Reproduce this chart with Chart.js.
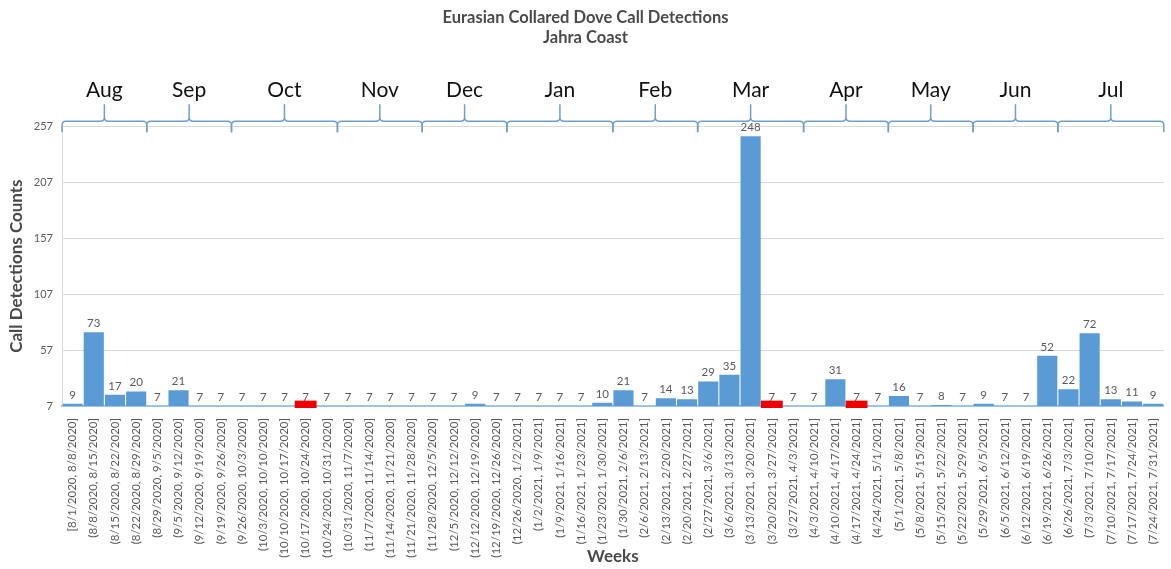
<!DOCTYPE html>
<html>
<head>
<meta charset="utf-8">
<script src="https://cdn.jsdelivr.net/npm/chart.js@4/dist/chart.umd.min.js"></script>
<style>
  body { margin: 0; background: #fff; }
  canvas { display: block; }
</style>
</head>
<body>
<canvas id="doveChart" width="1171" height="569"></canvas>
<script>
// weekly bins
const weekLabels = [
    '[8/1/2020, 8/8/2020]', '(8/8/2020, 8/15/2020]', '(8/15/2020, 8/22/2020]', '(8/22/2020, 8/29/2020]',
    '(8/29/2020, 9/5/2020]', '(9/5/2020, 9/12/2020]', '(9/12/2020, 9/19/2020]', '(9/19/2020, 9/26/2020]',
    '(9/26/2020, 10/3/2020]', '(10/3/2020, 10/10/2020]', '(10/10/2020, 10/17/2020]', '(10/17/2020, 10/24/2020]',
    '(10/24/2020, 10/31/2020]', '(10/31/2020, 11/7/2020]', '(11/7/2020, 11/14/2020]', '(11/14/2020, 11/21/2020]',
    '(11/21/2020, 11/28/2020]', '(11/28/2020, 12/5/2020]', '(12/5/2020, 12/12/2020]', '(12/12/2020, 12/19/2020]',
    '(12/19/2020, 12/26/2020]', '(12/26/2020, 1/2/2021]', '(1/2/2021, 1/9/2021]', '(1/9/2021, 1/16/2021]',
    '(1/16/2021, 1/23/2021]', '(1/23/2021, 1/30/2021]', '(1/30/2021, 2/6/2021]', '(2/6/2021, 2/13/2021]',
    '(2/13/2021, 2/20/2021]', '(2/20/2021, 2/27/2021]', '(2/27/2021, 3/6/2021]', '(3/6/2021, 3/13/2021]',
    '(3/13/2021, 3/20/2021]', '(3/20/2021, 3/27/2021]', '(3/27/2021, 4/3/2021]', '(4/3/2021, 4/10/2021]',
    '(4/10/2021, 4/17/2021]', '(4/17/2021, 4/24/2021]', '(4/24/2021, 5/1/2021]', '(5/1/2021, 5/8/2021]',
    '(5/8/2021, 5/15/2021]', '(5/15/2021, 5/22/2021]', '(5/22/2021, 5/29/2021]', '(5/29/2021, 6/5/2021]',
    '(6/5/2021, 6/12/2021]', '(6/12/2021, 6/19/2021]', '(6/19/2021, 6/26/2021]', '(6/26/2021, 7/3/2021]',
    '(7/3/2021, 7/10/2021]', '(7/10/2021, 7/17/2021]', '(7/17/2021, 7/24/2021]', '(7/24/2021, 7/31/2021]'
];

const counts = [
    9, 73, 17, 20, 7, 21, 7, 7, 7, 7, 7, 7, 7,
    7, 7, 7, 7, 7, 7, 9, 7, 7, 7, 7, 7, 10,
    21, 7, 14, 13, 29, 35, 248, 7, 7, 7, 31, 7, 7,
    16, 7, 8, 7, 9, 7, 7, 52, 22, 72, 13, 11, 9
];

// weeks marked in red
const highlightWeeks = [11, 33, 37];

const yTicks = [7, 57, 107, 157, 207, 257];

// month braces across the top (number of weeks in each)
const monthNames = ['Aug', 'Sep', 'Oct', 'Nov', 'Dec', 'Jan', 'Feb', 'Mar', 'Apr', 'May', 'Jun', 'Jul'];
const monthWeeks = [4, 4, 5, 4, 4, 5, 4, 5, 4, 4, 4, 5];

const FONT = 'Lato, "Open Sans", sans-serif';

// red marker bar straddling the count
const redData = counts.map((c, i) => highlightWeeks.includes(i) ? [c - 1.5, c + 4.5] : null);

// value labels, drawn before bars so the red markers sit over them
const valueLabels = {
    id: 'valueLabels',
    beforeDatasetsDraw(chart) {
        const ctx = chart.ctx;
        const meta = chart.getDatasetMeta(0);
        ctx.save();
        ctx.font = '11.5px ' + FONT;
        ctx.fillStyle = '#595959';
        ctx.textAlign = 'center';
        ctx.textBaseline = 'bottom';
        meta.data.forEach((bar, i) => {
            ctx.fillText(String(counts[i]), bar.x, bar.y - 3);
        });
        ctx.restore();
    }
};

// curly braces with month names
const monthBraces = {
    id: 'monthBraces',
    afterDraw(chart) {
        const ctx = chart.ctx;
        const x = chart.scales.x;
        const top = chart.chartArea.top;
        const half = (x.getPixelForValue(1) - x.getPixelForValue(0)) / 2;
        const yLine = top - 5, yEnd = top + 6, ySpike = top - 22, r = 4;
        let start = 0;
        ctx.save();
        ctx.strokeStyle = '#6d9fcb';
        ctx.lineWidth = 1.5;
        monthWeeks.forEach((n, m) => {
            const x0 = x.getPixelForValue(start) - half;
            const x1 = x.getPixelForValue(start + n - 1) + half;
            const mid = (x0 + x1) / 2;
            ctx.beginPath();
            ctx.moveTo(x0, yEnd);
            ctx.lineTo(x0, yLine + r);
            ctx.quadraticCurveTo(x0, yLine, x0 + r, yLine);
            ctx.lineTo(mid - r, yLine);
            ctx.quadraticCurveTo(mid, yLine, mid, yLine - r);
            ctx.lineTo(mid, ySpike);
            ctx.moveTo(mid, yLine - r);
            ctx.quadraticCurveTo(mid, yLine, mid + r, yLine);
            ctx.lineTo(x1 - r, yLine);
            ctx.quadraticCurveTo(x1, yLine, x1, yLine + r);
            ctx.lineTo(x1, yEnd);
            ctx.stroke();

            ctx.font = '21px ' + FONT;
            ctx.fillStyle = '#111';
            ctx.textAlign = 'center';
            ctx.textBaseline = 'middle';
            ctx.fillText(monthNames[m], mid, top - 36);
            start += n;
        });
        ctx.restore();
    }
};

new Chart(document.getElementById('doveChart'), {
    type: 'bar',
    data: {
        labels: weekLabels,
        datasets: [{
            label: 'Call Detections',
            data: counts,
            backgroundColor: '#5b9bd5',
            barPercentage: 0.95,
            categoryPercentage: 1,
            grouped: false
        }, {
            label: 'Highlight',
            data: redData,
            backgroundColor: '#ee0000',
            barPercentage: 1,
            categoryPercentage: 1,
            grouped: false,
            clip: false
        }]
    },
    options: {
        responsive: false,
        animation: false,
        layout: { padding: { right: 0, left: 0 } },
        plugins: {
            legend: { display: false },
            tooltip: { enabled: false },
            title: {
                display: true,
                text: ['Eurasian Collared Dove Call Detections', 'Jahra Coast'],
                color: '#4a4a4a',
                font: { family: FONT, size: 16.5, weight: 'bold', lineHeight: 1.25 },
                padding: { top: 7, bottom: 78 }
            }
        },
        scales: {
            x: {
                grid: { display: false },
                border: { color: '#9dc3e6', width: 2 },
                ticks: {
                    color: '#595959',
                    font: { family: FONT, size: 11.5 },
                    minRotation: 90,
                    maxRotation: 90,
                    autoSkip: false,
                    padding: 4
                },
                title: {
                    display: true,
                    text: 'Weeks',
                    color: '#4a4a4a',
                    font: { family: FONT, size: 17, weight: 'bold' },
                    padding: { top: 0, bottom: 2 }
                },
                afterFit(scale) { scale.height = 163; }
            },
            y: {
                min: 7,
                max: 257,
                afterBuildTicks(scale) { scale.ticks = yTicks.map(v => ({ value: v })); },
                grid: { color: '#d9d9d9', drawTicks: false },
                border: { color: '#d9d9d9' },
                ticks: {
                    color: '#595959',
                    font: { family: FONT, size: 11 },
                    padding: 9
                },
                title: {
                    display: true,
                    text: 'Call Detections Counts',
                    color: '#4a4a4a',
                    font: { family: FONT, size: 17, weight: 'bold' },
                    padding: { top: 6, bottom: 0 }
                },
                afterFit(scale) { scale.width = 62; }
            }
        }
    },
    plugins: [valueLabels, monthBraces]
});
</script>
</body>
</html>
